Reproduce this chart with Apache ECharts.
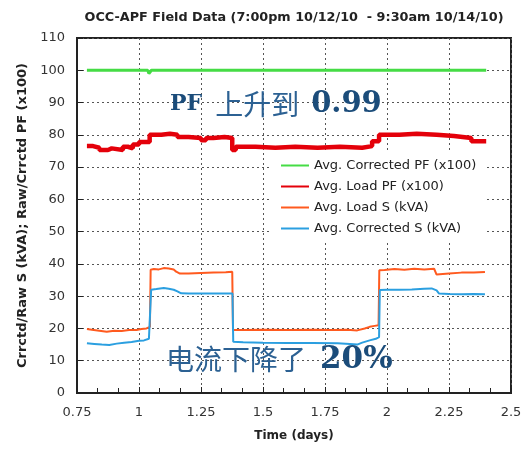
<!DOCTYPE html>
<html><head><meta charset="utf-8">
<script src="https://cdn.jsdelivr.net/npm/echarts@6/dist/echarts.min.js"></script>
<style>html,body{margin:0;padding:0;background:#fff}#c{width:532px;height:455px}</style>
</head><body><div id="c"></div>
<script>
const chartTitle = 'OCC-APF Field Data (7:00pm 10/12/10  - 9:30am 10/14/10)';
const seriesNames = ['Avg. Corrected PF (x100)', 'Avg. Load PF (x100)', 'Avg. Load S (kVA)', 'Avg. Corrected S (kVA)'];

// [time (days), value]
const correctedPF = [[0.79,100],[1.035,100],[1.04,99],[1.05,100],[2.40,100]];
const loadPF = [[0.79,76.5],[0.815,76],[0.84,75.3],[0.875,75.8],[0.89,75.3],[0.935,76.3],[0.955,75.8],[0.975,77],[1.0,77.8],[1.043,80],[1.09,80.3],[1.125,80],[1.155,79.3],[1.2,79],[1.25,78.3],[1.27,79],[1.3,79.3],[1.345,79],[1.376,75.3],[1.39,76.3],[1.47,76],[1.55,76.3],[1.63,76],[1.72,76.3],[1.81,76],[1.9,76.5],[1.94,78],[1.968,80],[2.05,80.3],[2.12,80],[2.2,79.6],[2.27,79],[2.34,78],[2.40,77.8]];
const loadS = [[0.79,19.8],[0.81,19.6],[0.84,19.3],[0.87,19.0],[0.90,19.3],[0.93,19.2],[0.96,19.5],[0.99,19.5],[1.01,19.8],[1.03,20.0],[1.044,20.5],[1.047,38.2],[1.06,38.4],[1.08,38.3],[1.10,38.7],[1.12,38.6],[1.14,38.3],[1.15,37.6],[1.165,37.0],[1.20,37.0],[1.25,37.2],[1.30,37.3],[1.35,37.4],[1.376,37.6],[1.379,19.5],[1.42,19.5],[1.50,19.6],[1.60,19.5],[1.70,19.6],[1.78,19.5],[1.84,19.6],[1.88,19.4],[1.91,20.0],[1.93,20.5],[1.95,20.8],[1.966,21.0],[1.969,38.0],[1.99,38.1],[2.03,38.4],[2.07,38.2],[2.11,38.5],[2.15,38.3],[2.19,38.5],[2.20,36.7],[2.25,37.0],[2.30,37.3],[2.35,37.3],[2.395,37.5]];
const correctedS = [[0.79,15.4],[0.82,15.2],[0.85,15.0],[0.88,14.9],[0.91,15.3],[0.94,15.6],[0.97,15.8],[1.00,16.2],[1.02,16.3],[1.04,16.8],[1.046,17.3],[1.049,32.0],[1.07,32.2],[1.10,32.5],[1.12,32.3],[1.14,32.0],[1.155,31.5],[1.17,30.9],[1.20,30.8],[1.25,30.8],[1.30,30.8],[1.35,30.8],[1.377,30.8],[1.38,15.9],[1.42,15.7],[1.50,15.6],[1.60,15.5],[1.70,15.5],[1.80,15.4],[1.85,15.2],[1.88,15.0],[1.90,15.6],[1.93,16.3],[1.955,16.8],[1.968,17.3],[1.971,31.9],[2.00,32.0],[2.05,32.0],[2.10,32.1],[2.15,32.3],[2.18,32.4],[2.20,31.8],[2.21,30.8],[2.25,30.7],[2.30,30.6],[2.35,30.7],[2.395,30.6]];

const xMin = 0.75, xMax = 2.5, xStep = 0.25;
const yMin = 0, yMax = 110, yStep = 10;

const chart = echarts.init(document.getElementById('c'));
const font = 'DejaVu Sans, Verdana, sans-serif';
chart.setOption({
  animation: false,
  backgroundColor: '#fff',
  title: { text: chartTitle, left: 289, textAlign: 'center', top: 6,
    textStyle: { fontFamily: font, fontSize: 12.8, fontWeight: 'bold', color: '#222' } },
  grid: { left: 77, right: 21, top: 38, bottom: 62, show: true, borderColor: '#222', borderWidth: 2, backgroundColor: 'transparent' },
  legend: {
    data: seriesNames, orient: 'vertical', left: 272, top: 152,
    backgroundColor: '#fff', padding: [7, 8, 6, 8], itemGap: 8,
    itemWidth: 28, itemHeight: 14,
    itemStyle: { opacity: 0 },
    textStyle: { fontFamily: font, fontSize: 13, color: '#222' }
  },
  xAxis: {
    type: 'value', min: xMin, max: xMax, interval: xStep,
    name: 'Time (days)', nameLocation: 'middle', nameGap: 37,
    nameTextStyle: { fontFamily: font, fontSize: 12, fontWeight: 'bold', color: '#222' },
    axisLine: { lineStyle: { color: '#222', width: 2 } },
    axisTick: { inside: true, length: 6, lineStyle: { color: '#222' } },
    minorTick: { show: true, splitNumber: 3, length: 5, lineStyle: { color: '#222' } },
    axisLabel: { fontFamily: font, fontSize: 13, color: '#333', margin: 13 },
    splitLine: { show: true, lineStyle: { color: '#555', type: [2, 3], width: 1 } }
  },
  yAxis: {
    type: 'value', min: yMin, max: yMax, interval: yStep,
    name: 'Crrctd/Raw S (kVA); Raw/Crrctd PF (x100)', nameLocation: 'middle', nameGap: 44,
    nameTextStyle: { fontFamily: font, fontSize: 13, fontWeight: 'bold', color: '#222' },
    axisLine: { show: true, lineStyle: { color: '#222', width: 2 } },
    axisTick: { show: true, inside: true, length: 6, lineStyle: { color: '#222' } },
    axisLabel: { fontFamily: font, fontSize: 13, color: '#333', margin: 12 },
    splitLine: { show: true, lineStyle: { color: '#555', type: [2, 3], width: 1 } }
  },
  series: [
    { name: seriesNames[0], type: 'line', data: correctedPF, symbol: 'none', color: '#45dc45', lineStyle: { width: 3, color: '#45dc45' } },
    { name: seriesNames[1], type: 'line', data: loadPF, step: 'end', symbol: 'none', color: '#e4000a', lineStyle: { width: 4.5, color: '#e4000a' } },
    { name: seriesNames[2], type: 'line', data: loadS, symbol: 'none', color: '#ff5a1f', lineStyle: { width: 2, color: '#ff5a1f' } },
    { name: seriesNames[3], type: 'line', data: correctedS, symbol: 'none', color: '#2b9fe0', lineStyle: { width: 2, color: '#2b9fe0' } }
  ],
  graphic: [
    { type: 'text', left: 170, top: 90, z: 100, style: {
      text: '{b|PF}{c|上升到}{b2|0.99}',
      rich: {
        b: { fontFamily: 'DejaVu Serif', fontWeight: 'bold', fontSize: 22, fill: '#1b4c7a', padding: [0, 13, 0, 0] },
        c: { fontFamily: 'Noto Sans CJK SC', fontSize: 28, fill: '#2c6193' },
        b2: { fontFamily: 'DejaVu Serif', fontWeight: 'bold', fontSize: 29, fill: '#1b4c7a', padding: [0, 0, 0, 12] }
      } } },
    { type: 'text', left: 166, top: 344, z: 100, style: {
      text: '{c|电流下降了}{b|20%}',
      rich: {
        c: { fontFamily: 'Noto Sans CJK SC', fontSize: 28, fill: '#2c6193' },
        b: { fontFamily: 'DejaVu Serif', fontWeight: 'bold', fontSize: 31, fill: '#1b4c7a', padding: [0, 0, 0, 14] }
      } } }
  ]
});
</script></body></html>
